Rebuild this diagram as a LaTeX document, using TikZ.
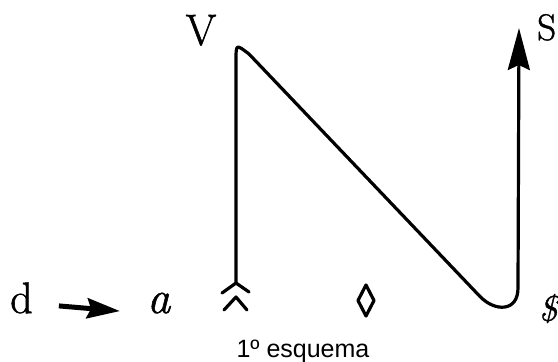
\documentclass[tikz,border=0pt]{standalone}
\usepackage{fontspec}
\newfontfamily\capfont{Liberation Sans}
\newfontfamily\heavy{Latin Modern Roman}[FakeBold=1.2]
\usetikzlibrary{arrows.meta}
\begin{document}
\begin{tikzpicture}[x=1pt,y=-1pt,
  lbl/.style={inner sep=0pt, font=\heavy\fontsize{44}{48}\selectfont},
  stroke/.style={line width=3.2pt, line cap=round, line join=round},
  bigtip/.style={-{Stealth[length=42pt,width=22pt,inset=5pt]}},
  smalltip/.style={-{Stealth[length=33pt,width=20pt,inset=4pt]}},
]
\useasboundingbox (0,0) rectangle (558,362);
% labels
\node[lbl, anchor=base] (V) at (201,45) {V};
\node[lbl, anchor=base west, font=\heavy\fontsize{37}{42}\selectfont] (S) at (537,40) {S};
\node[lbl, anchor=base west] (d) at (10,313) {d};
\node[lbl, anchor=base west, font=\heavy\fontsize{46}{50}\selectfont\itshape] (a) at (147,313) {a};
\node[lbl, anchor=base, font=\heavy\fontsize{36}{40}\selectfont\itshape] (Sbar) at (548,321) {\$};
\node[inner sep=0pt, anchor=base, font=\capfont\fontsize{25}{28}\selectfont] (cap) at (303,357) {1º esquema};
% d -> a
\draw[line width=5pt, smalltip] ([yshift=-8pt,xshift=26pt]d.east) -- ([yshift=-8pt,xshift=-27pt]a.west);
% main path
\coordinate (tail) at (236,283);
\coordinate (tip) at (519,28);
\draw[stroke, bigtip] (tail) -- (236,60) .. controls (236,44) .. (249,54)
  -- (480,296.5) .. controls (495,312) and (518,312) .. (518,288) -- (tip);
% feathers
\draw[stroke] (222,293) -- (tail) -- (249,292);
\draw[stroke] (224,310) -- (236,297) -- (247,310);
% lozenge
\draw[stroke, line width=3.2pt] (366,285) -- (374,300.5) -- (366,316) -- (358,300.5) -- cycle;
\end{tikzpicture}
\end{document}
